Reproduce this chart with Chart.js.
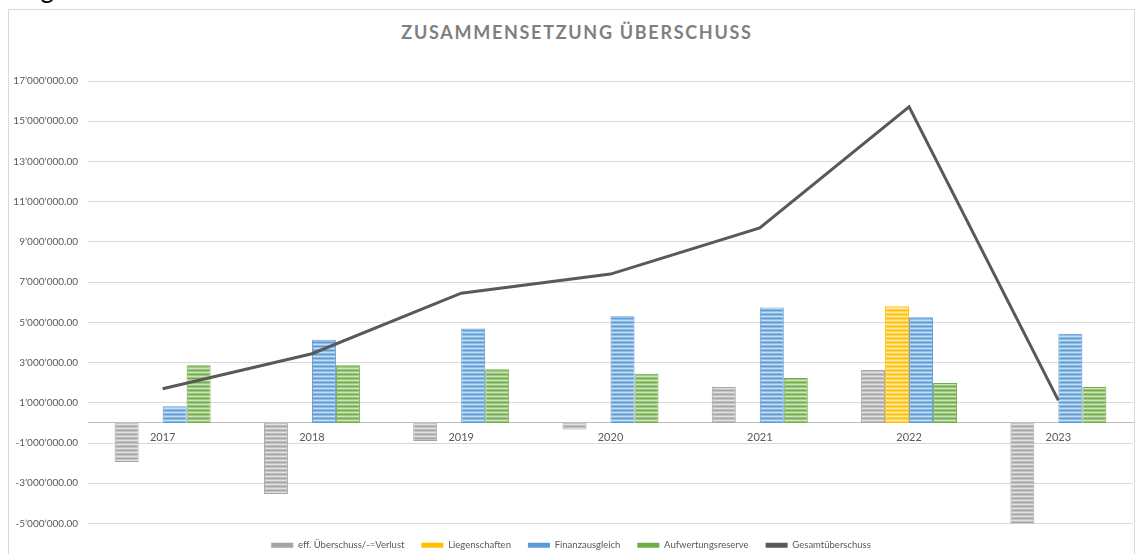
<!DOCTYPE html>
<html lang="de">
<head>
<meta charset="utf-8">
<title>Zusammensetzung Überschuss</title>
<script src="https://cdn.jsdelivr.net/npm/chart.js@4.4.1/dist/chart.umd.min.js"></script>
<style>
    html, body { margin: 0; padding: 0; background: #fff; }
    body { width: 1136px; height: 554px; overflow: hidden; position: relative; font-family: Lato, 'Liberation Sans', sans-serif; }
    .kopf { position: absolute; right: 1082px; top: -27px; font-size: 26px; line-height: 30px; color: #000; white-space: nowrap; }
    .rahmen { position: absolute; left: 8px; top: 9px; width: 1127px; height: 560px; border: 1px solid #d9d9d9; border-bottom: none; box-sizing: border-box; background: #fff; }
    .titel { position: absolute; left: 11px; right: 0; top: 12px; line-height: 20px; text-align: center; font-weight: bold; font-size: 18px; letter-spacing: 1.7px; color: #7f7f7f; }
    #ueberschussGrafik { position: absolute; left: 0; top: 0; }
</style>
</head>
<body>
<div class="kopf">Ertrag</div>
<div class="rahmen">
    <div class="titel">ZUSAMMENSETZUNG ÜBERSCHUSS</div>
    <canvas id="ueberschussGrafik" width="1125" height="555"></canvas>
</div>
<script>
const jahre = ['2017', '2018', '2019', '2020', '2021', '2022', '2023'];
const effUeberschuss = [-1940000, -3530000, -900000, -330000, 1790000, 2630000, -5100000];
const liegenschaften = [null, null, null, null, null, 5800000, null];
const finanzausgleich = [830000, 4140000, 4700000, 5300000, 5740000, 5250000, 4430000];
const aufwertungsreserve = [2870000, 2870000, 2670000, 2450000, 2230000, 1990000, 1790000];
const gesamtueberschuss = [1700000, 3440000, 6450000, 7400000, 9700000, 15720000, 1120000];

const yMin = -5000000;
const yMax = 17000000;
const yStep = 2000000;

const farben = ['#a5a5a5', '#ffc000', '#5b9bd5', '#70ad47', '#595959'];

function mix(hex, amount) {
    const r = parseInt(hex.slice(1, 3), 16);
    const g = parseInt(hex.slice(3, 5), 16);
    const b = parseInt(hex.slice(5, 7), 16);
    const m = (c) => Math.round(c + (255 - c) * amount);
    return `rgb(${m(r)}, ${m(g)}, ${m(b)})`;
}

// horizontale Streifen wie im Excel-Muster
function streifen(hex) {
    const c = document.createElement('canvas');
    c.width = 4;
    c.height = 4;
    const g = c.getContext('2d');
    [0, 0.35, 0.65, 0.3].forEach(function (a, i) {
        g.fillStyle = mix(hex, a);
        g.fillRect(0, i, 4, 1);
    });
    return g.createPattern(c, 'repeat');
}

function formatFranken(value) {
    const parts = Math.abs(value).toFixed(2).split('.');
    const ganz = parts[0].replace(/\B(?=(\d{3})+(?!\d))/g, '\u2019');
    return (value < 0 ? '-' : '') + ganz + '.' + parts[1];
}

function balken(label, data, farbe) {
    return {
        label: label,
        data: data,
        backgroundColor: streifen(farbe),
        borderColor: farbe,
        borderWidth: 1,
        categoryPercentage: 0.643,
        barPercentage: 1.0,
        order: 1
    };
}

Chart.defaults.font.family = 'Lato, "Liberation Sans", sans-serif';
Chart.defaults.font.size = 10;
Chart.defaults.color = '#595959';

const ctx = document.getElementById('ueberschussGrafik').getContext('2d');
new Chart(ctx, {
    type: 'bar',
    data: {
        labels: jahre,
        datasets: [
            balken('eff. Überschuss/-=Verlust', effUeberschuss, farben[0]),
            balken('Liegenschaften', liegenschaften, farben[1]),
            balken('Finanzausgleich', finanzausgleich, farben[2]),
            balken('Aufwertungsreserve', aufwertungsreserve, farben[3]),
            {
                type: 'line',
                label: 'Gesamtüberschuss',
                data: gesamtueberschuss,
                borderColor: farben[4],
                backgroundColor: farben[4],
                borderWidth: 3,
                pointRadius: 0,
                tension: 0,
                order: 0
            }
        ]
    },
    options: {
        responsive: false,
        animation: false,
        layout: {
            padding: { top: 71, right: 1, bottom: 5, left: 0 }
        },
        plugins: {
            tooltip: { enabled: false },
            legend: {
                position: 'bottom',
                labels: {
                    boxWidth: 22,
                    boxHeight: 5,
                    padding: 17,
                    color: '#595959',
                    font: { size: 9.5 },
                    sort: (a, b) => a.datasetIndex - b.datasetIndex,
                    generateLabels: function (chart) {
                        const items = Chart.defaults.plugins.legend.labels.generateLabels(chart);
                        items.forEach(function (item) {
                            item.fillStyle = farben[item.datasetIndex];
                            item.strokeStyle = farben[item.datasetIndex];
                            item.lineWidth = 0;
                        });
                        return items;
                    }
                }
            }
        },
        scales: {
            x: {
                position: { y: 0 },
                grid: { display: false, drawTicks: false },
                border: { color: '#bfbfbf', width: 1 },
                ticks: { padding: 8, color: '#595959', font: { size: 11 } }
            },
            y: {
                min: yMin,
                max: yMax,
                ticks: {
                    stepSize: yStep,
                    padding: 10,
                    color: '#595959',
                    font: { size: 10 },
                    callback: (value) => formatFranken(value)
                },
                grid: { color: '#d9d9d9', drawTicks: false },
                border: { display: false },
                afterFit: function (scale) {
                    scale.width = 79;
                }
            }
        }
    }
});
</script>
</body>
</html>
